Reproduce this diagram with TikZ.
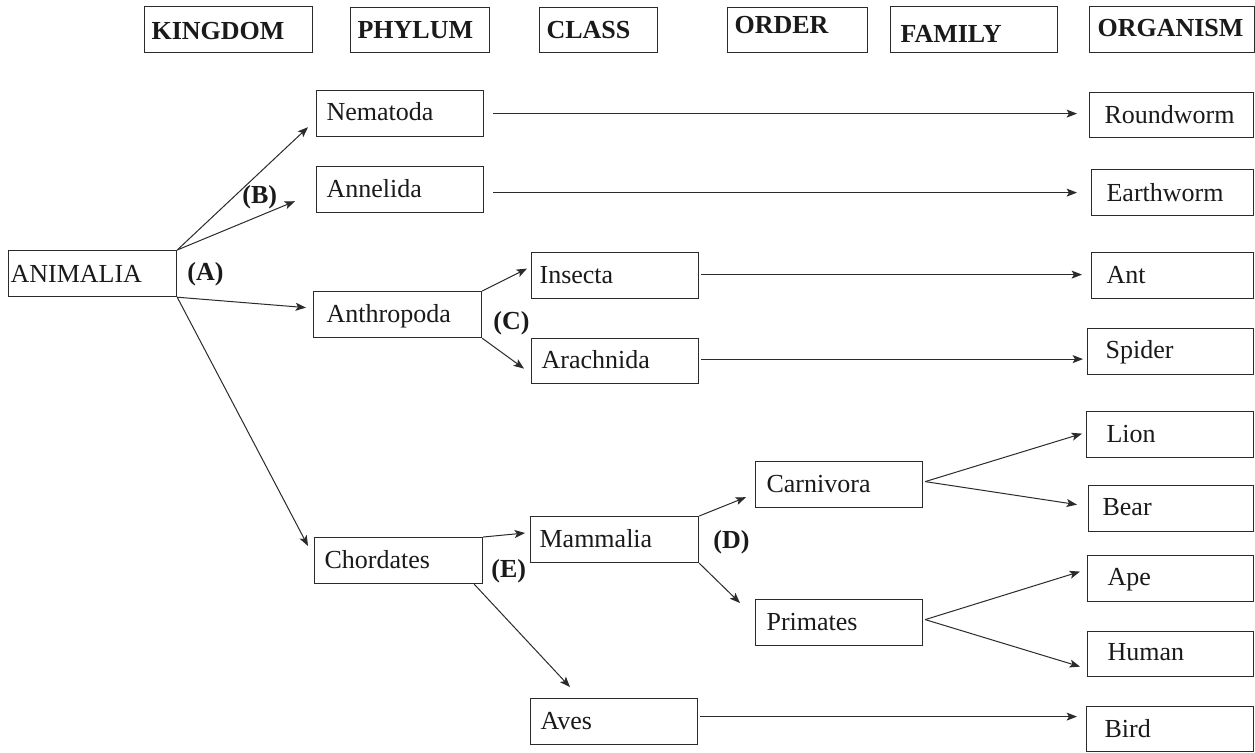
\documentclass[tikz,border=0pt]{standalone}
\usepackage{fontspec}
\setmainfont{Liberation Serif}
\usetikzlibrary{arrows.meta,calc}
\definecolor{lc}{HTML}{2B2B2B}
\definecolor{tc}{HTML}{1A1A1A}
\tikzset{
  bx/.style={draw=lc, line width=0.6pt, anchor=north west, inner ysep=0pt,
    align=left, text=tc, font=\fontsize{13}{15.6}\selectfont,
    inner xsep=5pt, text height=15.5pt, text depth=7.5pt},
  hd/.style={bx, font=\fontsize{13}{15.6}\selectfont\bfseries, inner xsep=3.5pt},
  lbl/.style={anchor=base west, inner sep=0pt, text=tc, font=\fontsize{13}{15.6}\selectfont\bfseries},
  arr/.style={draw=lc, line width=0.5pt, -{Stealth[length=5.2pt,width=4pt,inset=1.2pt]}}
}
\begin{document}
\begin{tikzpicture}[x=0.5pt,y=-0.5pt]
\path[use as bounding box, fill=white] (0,0) rectangle (1255,752);
% headers
\node[hd, text width=77pt, text height=16.5pt, text depth=6.5pt] (hk) at (144,6) {KINGDOM};
\node[hd, text width=62.5pt, text height=15.5pt, text depth=7pt] (hp) at (350,7) {PHYLUM};
\node[hd, text width=52pt, text height=15.5pt, text depth=7pt] (hc) at (539,7) {CLASS};
\node[hd, text width=63pt, text height=13pt, text depth=9.5pt] (ho) at (727,7) {ORDER};
\node[hd, text width=73.5pt, inner xsep=5pt, text height=18pt, text depth=5pt] (hf) at (890,6) {FAMILY};
\node[hd, text width=74.5pt, inner xsep=4pt, text height=15pt, text depth=8pt] (hg) at (1089,6) {ORGANISM};
% kingdom / phylum
\node[bx, text width=82pt, inner xsep=1pt, text height=16pt, text depth=7pt] (ani) at (8,250) {ANIMALIA};
\node[bx, text width=73.5pt, text height=15pt, text depth=8pt] (nem) at (316,90) {Nematoda};
\node[bx, text width=73.5pt] (ann) at (316,166) {Annelida};
\node[bx, text width=71pt, inner xsep=6.5pt] (ant) at (313,291) {Anthropoda};
\node[bx, text width=74pt] (cho) at (314,537) {Chordates};
% class
\node[bx, text width=75.5pt, inner xsep=4pt] (ins) at (531,252) {Insecta};
\node[bx, text width=73.5pt, text height=15pt] (ara) at (531,338) {Arachnida};
\node[bx, text width=75pt, inner xsep=4.5pt] (mam) at (530,516) {Mammalia};
\node[bx, text width=73.5pt] (ave) at (530,698) {Aves};
% order
\node[bx, text width=72.5pt, inner xsep=5.5pt] (car) at (755,461) {Carnivora};
\node[bx, text width=72.5pt, inner xsep=5.5pt] (pri) at (755,599) {Primates};
% organisms
\node[bx, text width=67pt, inner xsep=7.5pt, text height=15.5pt, text depth=7pt] (rw) at (1089,92) {Roundworm};
\node[bx, text width=66pt, inner xsep=7.5pt, text height=16pt, text depth=7pt] (ew) at (1091,169) {Earthworm};
\node[bx, text width=66pt, inner xsep=7.5pt] (an) at (1091,252) {Ant};
\node[bx, text width=65pt, inner xsep=9pt, text height=15pt, text depth=8pt] (sp) at (1087,328) {Spider};
\node[bx, text width=63.5pt, inner xsep=10pt] (li) at (1086,411) {Lion};
\node[bx, text width=68.5pt, inner xsep=7pt, text height=15pt, text depth=8pt] (be) at (1088,485) {Bear};
\node[bx, text width=63pt, inner xsep=10pt, text height=15pt, text depth=8pt] (ap) at (1087,555) {Ape};
\node[bx, text width=63pt, inner xsep=10pt, text height=14.5pt, text depth=8pt] (hu) at (1087,631) {Human};
\node[bx, text width=65.5pt, inner xsep=9pt, text height=15.5pt, text depth=7pt] (bi) at (1086,706) {Bird};
% labels
\node[lbl] (la) at (187,280) {(A)};
\node[lbl] (lb) at (242,203) {(B)};
\node[lbl] (lc) at (493,329) {(C)};
\node[lbl] (ld) at (713,548) {(D)};
\node[lbl] (le) at (491,577) {(E)};
% arrows
\draw[arr] (ani.north east) -- ($(nem.south west)+(-8,-10)$);
\draw[arr] (ani.north east) -- ($(ann.south west)+(-21,-12)$);
\draw[arr] (ani.south east) -- ($(ant.west)+(-7,-7)$);
\draw[arr] (ani.south east) -- ($(cho.north west)+(-6,9)$);
\draw[arr] ($(nem.east)+(9,0)$) -- ($(rw.west |- nem.east)+(-12,0)$);
\draw[arr] ($(ann.east |- ew.west)+(9,0)$) -- ($(ew.west)+(-14,0)$);
\draw[arr] (ant.north east) -- ($(ins.west)+(-4,-7)$);
\draw[arr] (ant.south east) -- ($(ara.west)+(-7,7.5)$);
\draw[arr] ($(ins.east)+(2,-1)$) -- ($(an.west |- ins.east)+(-9,-1)$);
\draw[arr] ($(ara.east)+(2,-2)$) -- ($(sp.west |- ara.east)+(-4,-2)$);
\draw[arr] (cho.north east) -- ($(mam.north west)+(-5,17)$);
\draw[arr] ($(cho.south east)+(-9,0)$) -- ($(ave.north west)+(40,-11)$);
\draw[arr] (mam.north east) -- ($(car.south west)+(-9,-11)$);
\draw[arr] (mam.south east) -- ($(pri.north west)+(-15,4)$);
\draw[arr] ($(car.east)+(2,-3)$) -- ($(li.west)+(-4,-1)$);
\draw[arr] ($(car.east)+(2,-3)$) -- ($(be.west)+(-11,-4)$);
\draw[arr] ($(pri.east)+(2,-3)$) -- ($(ap.west)+(-7,-7)$);
\draw[arr] ($(pri.east)+(2,-3)$) -- ($(hu.west)+(-7,12.5)$);
\draw[arr] ($(ave.east)+(2,-5)$) -- ($(bi.west |- ave.east)+(-9,-5)$);
\end{tikzpicture}
\end{document}
